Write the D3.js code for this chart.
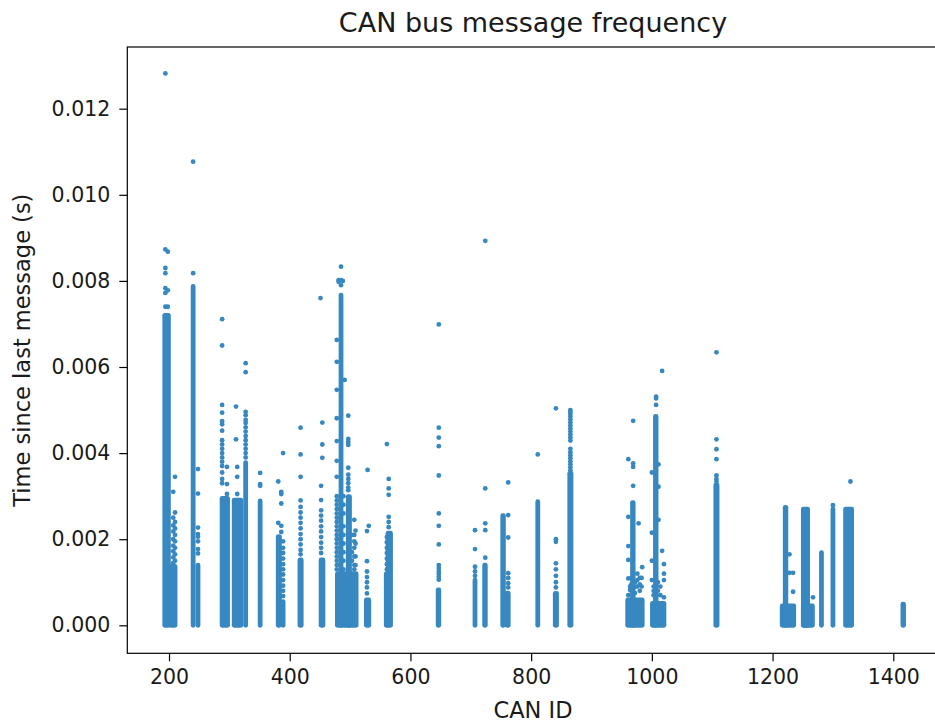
<!DOCTYPE html>
<html>
<head>
<meta charset="utf-8">
<script src="https://cdn.jsdelivr.net/npm/d3@7/dist/d3.min.js"></script>
<style>
  html, body { margin: 0; padding: 0; background: #fff; }
  svg { display: block; }
  text { font-family: "DejaVu Sans", sans-serif; fill: #1a1a1a; }
</style>
</head>
<body>
<svg id="chart" width="935" height="725"></svg>
<script>
// Axis ticks
const xTicks = [200, 400, 600, 800, 1000, 1200, 1400];
const yTicks = [0, 0.002, 0.004, 0.006, 0.008, 0.010, 0.012];

// Dense runs of messages: [first CAN ID, last CAN ID, highest gap in the run (s)]
const denseRuns = [
  [193, 199, 0.00720],
  [203, 210, 0.00137],
  [240, 240, 0.00787],
  [248, 248, 0.00140],
  [288, 297, 0.00295],
  [308, 319, 0.00291],
  [327, 327, 0.00378],
  [351, 351, 0.00289],
  [381, 383, 0.00206],
  [389, 389, 0.00055],
  [417, 419, 0.00152],
  [452, 455, 0.00152],
  [479, 510, 0.00120],
  [497, 499, 0.00299],
  [485, 485, 0.00767],
  [527, 531, 0.00059],
  [560, 562, 0.00120],
  [563, 567, 0.00214],
  [646, 647, 0.00082],
  [707, 707, 0.00105],
  [723, 724, 0.00140],
  [753, 754, 0.00255],
  [760, 762, 0.00075],
  [811, 811, 0.00287],
  [840, 842, 0.00074],
  [864, 866, 0.00353],
  [960, 984, 0.00059],
  [968, 969, 0.00285],
  [1001, 1020, 0.00051],
  [1006, 1007, 0.00485],
  [1106, 1108, 0.00326],
  [1216, 1235, 0.00045],
  [1221, 1222, 0.00274],
  [1251, 1266, 0.00045],
  [1251, 1258, 0.00270],
  [1281, 1281, 0.00169],
  [1300, 1300, 0.00270],
  [1321, 1331, 0.00270],
  [1416, 1417, 0.00049]
];

// Individual gaps that stand apart: [CAN ID, [gaps (s)]]
const sparseGaps = [
  [194, [0.01282, 0.00873, 0.00830, 0.00818, 0.00783, 0.00772, 0.00740]],
  [198, [0.00868, 0.00778, 0.00740]],
  [210, [0.00345, 0.00262, 0.00240, 0.00225, 0.00210, 0.00195, 0.00180, 0.00165, 0.00150]],
  [207, [0.00310, 0.00250, 0.00232, 0.00218, 0.00200, 0.00185, 0.00172, 0.00158, 0.00145]],
  [240, [0.01077, 0.00818]],
  [248, [0.00363, 0.00306, 0.00227, 0.00212, 0.00206, 0.00195, 0.00177, 0.00167]],
  [288, [0.00711, 0.00650, 0.00512, 0.00494, 0.00474, 0.00467, 0.00452, 0.00430, 0.00420, 0.00410, 0.00400, 0.00390, 0.00380, 0.00370, 0.00355, 0.00340, 0.00330]],
  [296, [0.00368, 0.00328, 0.00305]],
  [311, [0.00508, 0.00432]],
  [313, [0.00368, 0.00345, 0.00305]],
  [327, [0.00609, 0.00588, 0.00496, 0.00488, 0.00477, 0.00470, 0.00460, 0.00450, 0.00440, 0.00430, 0.00420, 0.00410, 0.00400, 0.00390]],
  [351, [0.00354, 0.00328, 0.00324]],
  [381, [0.00334, 0.00238]],
  [386, [0.00310, 0.00305, 0.00283, 0.00231, 0.00217]],
  [389, [0.00400, 0.00195, 0.00180, 0.00168, 0.00155, 0.00142, 0.00130, 0.00118, 0.00105, 0.00092, 0.00080, 0.00068]],
  [418, [0.00459, 0.00397, 0.00345, 0.00290, 0.00275, 0.00262, 0.00250, 0.00238, 0.00225, 0.00212, 0.00200, 0.00188, 0.00175, 0.00165]],
  [451, [0.00760]],
  [454, [0.00471, 0.00420, 0.00389]],
  [452, [0.00324, 0.00291, 0.00267, 0.00255, 0.00243, 0.00230, 0.00218, 0.00205, 0.00192, 0.00180, 0.00168]],
  [485, [0.00833, 0.00802, 0.00790]],
  [481, [0.00802, 0.00798]],
  [488, [0.00800]],
  [478, [0.00663, 0.00612, 0.00547, 0.00481, 0.00428, 0.00382, 0.00345, 0.00300, 0.00290, 0.00280, 0.00270, 0.00260, 0.00250, 0.00240, 0.00230, 0.00220, 0.00210, 0.00200, 0.00190, 0.00180, 0.00170, 0.00160, 0.00150, 0.00140, 0.00130]],
  [483, [0.00290, 0.00270, 0.00250, 0.00220, 0.00200, 0.00180, 0.00160, 0.00140]],
  [489, [0.00300, 0.00280, 0.00260, 0.00230, 0.00210, 0.00190, 0.00170, 0.00150, 0.00130]],
  [491, [0.00570]],
  [497, [0.00487, 0.00433, 0.00426, 0.00419, 0.00366, 0.00350, 0.00340, 0.00330, 0.00320, 0.00314]],
  [503, [0.00210, 0.00170, 0.00150]],
  [507, [0.00245, 0.00210, 0.00195, 0.00180, 0.00160, 0.00140, 0.00130]],
  [509, [0.00220, 0.00190, 0.00160, 0.00140]],
  [529, [0.00361]],
  [531, [0.00231]],
  [528, [0.00219, 0.00149, 0.00125, 0.00112, 0.00100, 0.00088, 0.00074]],
  [561, [0.00421, 0.00205, 0.00193, 0.00180, 0.00168, 0.00155, 0.00142, 0.00130]],
  [564, [0.00340, 0.00318, 0.00303, 0.00252, 0.00240, 0.00228]],
  [647, [0.00699, 0.00459, 0.00436, 0.00416, 0.00348, 0.00260, 0.00231, 0.00188, 0.00140, 0.00133, 0.00126, 0.00120, 0.00113, 0.00106]],
  [707, [0.00221, 0.00177, 0.00136, 0.00125, 0.00115]],
  [724, [0.00893, 0.00318, 0.00237, 0.00221, 0.00157]],
  [762, [0.00332, 0.00256, 0.00204, 0.00121, 0.00110, 0.00098, 0.00088]],
  [811, [0.00397]],
  [841, [0.00504, 0.00200, 0.00194, 0.00144, 0.00130, 0.00115, 0.00100, 0.00088]],
  [865, [0.00500, 0.00496, 0.00491, 0.00485, 0.00478, 0.00471, 0.00464, 0.00457, 0.00450, 0.00443, 0.00436, 0.00429, 0.00410, 0.00402, 0.00395, 0.00388, 0.00381, 0.00374, 0.00367, 0.00360]],
  [961, [0.00386, 0.00252, 0.00184, 0.00152, 0.00109, 0.00070]],
  [969, [0.00475, 0.00376, 0.00368, 0.00324]],
  [978, [0.00237]],
  [984, [0.00135]],
  [964, [0.00090, 0.00082]],
  [966, [0.00110, 0.00095, 0.00080]],
  [972, [0.00100, 0.00090, 0.00075]],
  [976, [0.00120, 0.00105, 0.00090]],
  [980, [0.00110, 0.00095, 0.00080]],
  [983, [0.00110, 0.00090]],
  [1007, [0.00531, 0.00527, 0.00512]],
  [1017, [0.00591, 0.00173]],
  [1000, [0.00355, 0.00215, 0.00150, 0.00105]],
  [1011, [0.00374, 0.00322, 0.00245]],
  [1020, [0.00142, 0.00120, 0.00105, 0.00065]],
  [1003, [0.00090, 0.00080, 0.00070]],
  [1010, [0.00100, 0.00080]],
  [1014, [0.00090, 0.00070]],
  [1107, [0.00634, 0.00432, 0.00409, 0.00386, 0.00348, 0.00340, 0.00334]],
  [1228, [0.00165, 0.00122]],
  [1234, [0.00122, 0.00078]],
  [1267, [0.00065]],
  [1300, [0.00279]],
  [1329, [0.00334]]
];

const svg = d3.select("#chart");
const plot = { left: 127.3, right: 940, top: 47, bottom: 653.3 };
const color = "#3787c1";
const r = 2.4;

const x = d3.scaleLinear().domain([130.9, 1477.4]).range([plot.left, plot.right]);
const y = d3.scaleLinear().domain([-0.00065, 0.013433]).range([plot.bottom, plot.top]);

// Dense runs: a column of overlapping markers from 0 up to the run's top
svg.append("g")
  .selectAll("rect")
  .data(denseRuns)
  .join("rect")
  .attr("x", d => x(d[0]) - r)
  .attr("width", d => x(d[1]) - x(d[0]) + 2 * r)
  .attr("y", d => y(d[2]) - r)
  .attr("height", d => y(0) - y(d[2]) + 2 * r)
  .attr("rx", r)
  .attr("fill", color);

// Individual markers
const pts = sparseGaps.flatMap(([id, vals]) => vals.map(v => [id, v]));
svg.append("g")
  .selectAll("circle")
  .data(pts)
  .join("circle")
  .attr("cx", d => x(d[0]))
  .attr("cy", d => y(d[1]))
  .attr("r", r)
  .attr("fill", color);

// Frame
svg.append("rect")
  .attr("x", plot.left).attr("y", plot.top)
  .attr("width", plot.right - plot.left).attr("height", plot.bottom - plot.top)
  .attr("fill", "none").attr("stroke", "#000").attr("stroke-width", 1.2);

const tickFont = "20.5px";
const labelFont = "22.5px";

const xAxis = svg.append("g")
  .attr("transform", `translate(0,${plot.bottom})`)
  .call(d3.axisBottom(x).tickValues(xTicks).tickSize(8).tickPadding(8).tickFormat(d3.format("d")));
xAxis.select(".domain").remove();
xAxis.selectAll(".tick line").attr("stroke", "#000").attr("stroke-width", 1.2);
xAxis.selectAll(".tick text").attr("font-size", tickFont).attr("font-family", "DejaVu Sans").attr("fill", "#1a1a1a");

const yAxis = svg.append("g")
  .attr("transform", `translate(${plot.left},0)`)
  .call(d3.axisLeft(y).tickValues(yTicks).tickSize(8).tickPadding(9).tickFormat(d3.format(".3f")));
yAxis.select(".domain").remove();
yAxis.selectAll(".tick line").attr("stroke", "#000").attr("stroke-width", 1.2);
yAxis.selectAll(".tick text").attr("font-size", tickFont).attr("font-family", "DejaVu Sans").attr("fill", "#1a1a1a");

// Title and axis labels
svg.append("text")
  .attr("x", 533).attr("y", 32)
  .attr("text-anchor", "middle")
  .attr("font-size", "27px")
  .text("CAN bus message frequency");

svg.append("text")
  .attr("x", 533).attr("y", 718)
  .attr("text-anchor", "middle")
  .attr("font-size", labelFont)
  .text("CAN ID");

svg.append("text")
  .attr("transform", `translate(30,${(plot.top + plot.bottom) / 2}) rotate(-90)`)
  .attr("text-anchor", "middle")
  .attr("font-size", labelFont)
  .text("Time since last message (s)");
</script>
</body>
</html>
